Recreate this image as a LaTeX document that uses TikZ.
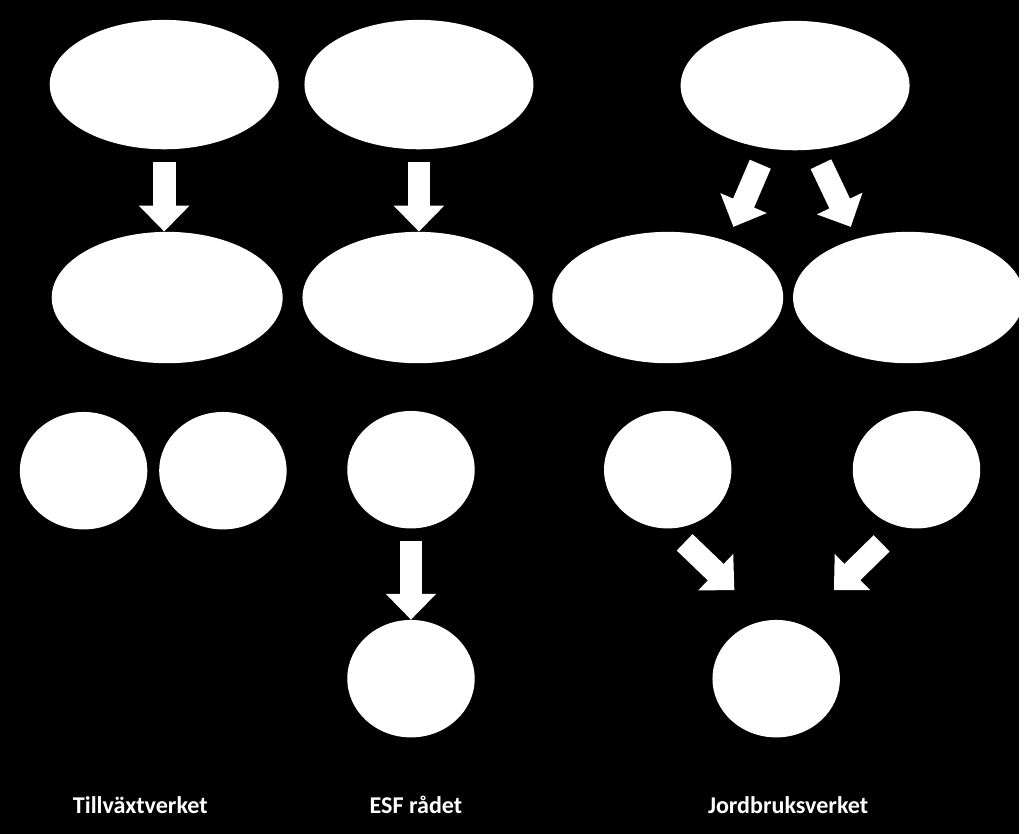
\documentclass[tikz,border=0pt]{standalone}
\usepackage{fontspec}
\setmainfont{Carlito}
\usepackage{tikz}
\usetikzlibrary{arrows.meta,positioning,shapes.geometric}

\begin{document}
\begin{tikzpicture}[x=0.025cm, y=-0.025cm,
  oval/.style={ellipse, fill=white, draw=none, inner sep=0pt, minimum width=5.75cm, minimum height=3.25cm},
  wide/.style={oval, minimum width=5.8cm, minimum height=3.3cm},
  rnd/.style={oval, minimum width=3.2cm, minimum height=2.95cm},
  blk/.style={draw=white, line width=16.3pt, -{Triangle[length=18.5pt,width=35pt]}},
  lbl/.style={text=white, font=\fontsize{17.2}{20}\selectfont\bfseries, anchor=base}]
% background, fixes the size
\fill[black] (0,0) rectangle (1024,838);
% top row
\node[oval] (t1) at (165,85) {};
\node[oval] (t2) at (421,85) {};
\node[oval] (t3) at (799,86) {};
% middle row
\node[wide] (m1) at (168,299) {};
\node[wide] (m2) at (420,299) {};
\node[wide] (m3) at (671,299) {};
\node[wide] (m4) at (913,299) {};
% small circles
\node[rnd] (c1) at (84,473) {};
\node[rnd] (c2) at (224,473) {};
\node[rnd] (c3) at (413,472) {};
\node[rnd] (c4) at (671,472) {};
\node[rnd] (c5) at (921,472) {};
% bottom row
\node[rnd] (b1) at (413,682) {};
\node[rnd] (b2) at (780,682) {};
% free ends of the slanted arrows
\coordinate (s1) at (764,165);
\coordinate (e1) at (737,228);
\coordinate (s2) at (825,165);
\coordinate (e2) at (855,228);
\coordinate (s3) at (688,545);
\coordinate (e3) at (738,593);
\coordinate (s4) at (886,546);
\coordinate (e4) at (838,593);
% arrows
\draw[blk, shorten <=0.3cm] (t1.south) -- (t1.south |- m1.north);
\draw[blk, shorten <=0.3cm] (t2.south) -- (t2.south |- m2.north);
\draw[blk] (s1) -- (e1);
\draw[blk] (s2) -- (e2);
\draw[blk, shorten <=0.3cm] (c3.south) -- (c3.south |- b1.north);
\draw[blk] (s3) -- (e3);
\draw[blk] (s4) -- (e4);
% labels
\node[lbl] (l1) at (141,817) {Tillväxtverket};
\node[lbl] (l2) at (418,817) {ESF rådet};
\node[lbl] (l3) at (792,817) {Jordbruksverket};
\end{tikzpicture}
\end{document}
